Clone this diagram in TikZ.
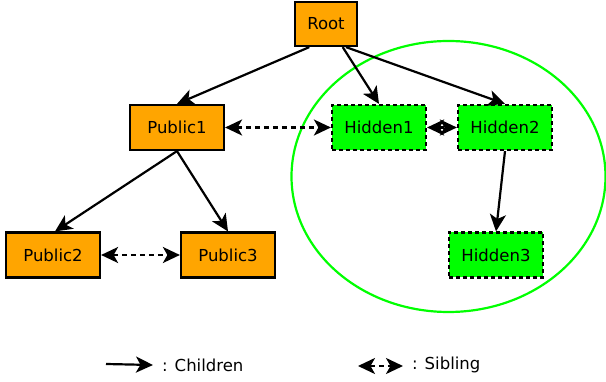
\documentclass[tikz,border=0pt]{standalone}
\usepackage{fontspec}
\setmainfont{DejaVu Sans}
\usetikzlibrary{arrows.meta,calc}
\definecolor{pubor}{HTML}{FFA500}
\definecolor{hidgr}{HTML}{00FF00}
\tikzset{
  pubbox/.style={draw=black, line width=2.2pt, fill=pubor, minimum width=94pt, minimum height=45pt, inner sep=0pt, font=\fontsize{16.5pt}{19pt}\selectfont},
  hidbox/.style={draw=black, line width=2.2pt, fill=hidgr, dash pattern=on 4pt off 3pt, minimum width=94pt, minimum height=45pt, inner sep=0pt, font=\fontsize{16.5pt}{19pt}\selectfont},
  tip/.tip={Stealth[length=17pt,width=16pt,inset=4.5pt]},
  childedge/.style={line width=2.2pt, -tip},
  sibedge/.style={line width=2.2pt, tip-tip, dash pattern=on 5pt off 4pt},
  legtext/.style={font=\fontsize{16.5pt}{19pt}\selectfont, anchor=west, inner sep=0pt}
}
\begin{document}
\begin{tikzpicture}[x=1pt,y=-1pt]
\useasboundingbox (0,0) rectangle (606,382);
\draw[hidgr, line width=2.2pt] (448.5,176.5) ellipse [x radius=157, y radius=135.5];
\node[pubbox, minimum width=62pt, minimum height=44pt] (root) at (326,24) {Root};
\node[pubbox] (p1) at (177,127.5) {Public1};
\node[hidbox] (h1) at (379,127.5) {Hidden1};
\node[hidbox] (h2) at (505,127.5) {Hidden2};
\node[pubbox] (p2) at (53,255) {Public2};
\node[pubbox] (p3) at (228,255) {Public3};
\node[hidbox] (h3) at (496,255) {Hidden3};
\draw[childedge] ($(root.south west)!0.24!(root.south east)$) -- (p1.north);
\draw[childedge] ($(root.south west)!0.76!(root.south east)$) -- (h1.north);
\draw[childedge] ($(root.south west)!0.81!(root.south east)$) -- (h2.north);
\draw[childedge] (p1.south) -- ($(p2.north)+(2,0)$);
\draw[childedge] (p1.south) -- (p3.north);
\draw[childedge] (h2.south) -- (h3.north);
\draw[sibedge] (p1.east) -- (h1.west);
\draw[sibedge] (h1.east) -- (h2.west);
\draw[sibedge] (p2.east) -- (p3.west);
\coordinate (c1) at (106,364);
\coordinate (c2) at (153,365);
\draw[childedge] (c1) -- (c2);
\node[legtext] (lc) at (162,365) {: Children};
\coordinate (s1) at (358,366);
\coordinate (s2) at (403,366);
\draw[sibedge] (s1) -- (s2);
\node[legtext] (ls) at (412,365) {: Sibling};
\end{tikzpicture}
\end{document}
